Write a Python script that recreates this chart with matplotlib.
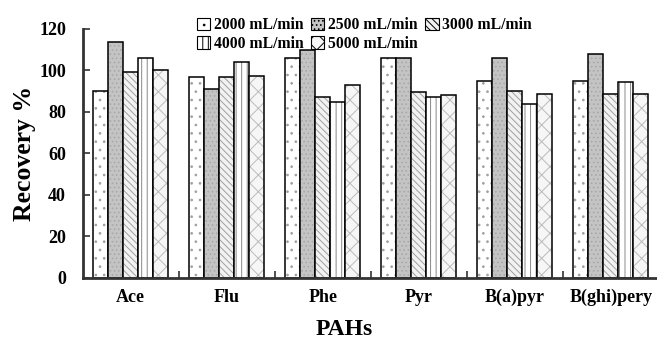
import matplotlib
matplotlib.use('Agg')
import matplotlib.pyplot as plt
import numpy as np

plt.rcParams['font.family'] = ['Liberation Serif', 'DejaVu Serif']
plt.rcParams['font.weight'] = 'bold'
plt.rcParams['hatch.linewidth'] = 0.7

# datos
compuestos = ['Ace', 'Flu', 'Phe', 'Pyr', 'B(a)pyr', 'B(ghi)pery']
flujos = ['2000 mL/min', '2500 mL/min', '3000 mL/min', '4000 mL/min', '5000 mL/min']
r2000 = [90, 97, 106, 106, 95, 95]
r2500 = [113.5, 91, 110, 106, 106, 108]
r3000 = [99.5, 97, 87, 89.5, 90, 88.5]
r4000 = [106, 104, 85, 87, 84, 94.5]
r5000 = [100, 97.5, 93, 88, 88.5, 88.5]
series = [r2000, r2500, r3000, r4000, r5000]

colores = ['white', '#c4c4c4', '#f2f2f2', 'white', '#f6f6f6']
tramas = ['..', '....', '\\\\\\\\\\', '|||', 'xx']
trama_col = ['#a0a0a0', '#a8a8a8', '#a0a0a0', '#888888', '#bbbbbb']

fig = plt.figure(figsize=(6.57, 3.41), dpi=100)
ax = fig.add_axes([0.126, 0.185, 0.877, 0.73])

x = np.arange(len(compuestos))
ancho = 0.157
barras = []
for i, vals in enumerate(series):
    pos = x - 2 * ancho + i * ancho - 0.005
    b = ax.bar(pos, vals, ancho, color=colores[i], edgecolor=trama_col[i],
               hatch=tramas[i], linewidth=0, label=flujos[i])
    barras.append(b)
    ax.bar(pos, vals, ancho, color='none', edgecolor='black', linewidth=1.1)

ax.set_xlim(-0.5, len(compuestos) - 0.5)
ax.set_ylim(0, 120)
ax.set_yticks([0, 20, 40, 60, 80, 100, 120])
ax.set_xticks(x)
ax.set_xticklabels(compuestos)
ax.set_xticks(np.arange(len(compuestos)) + 0.5, minor=True)
ax.tick_params(axis='x', which='major', length=0, pad=8, labelsize=13)
ax.tick_params(axis='x', which='minor', direction='in', length=5, width=1.2, color='#333333')
ax.tick_params(axis='y', direction='in', length=5, width=1.2, color='#333333', labelsize=13, pad=12)
for t in ax.get_xticklabels() + ax.get_yticklabels():
    t.set_fontweight('bold')

ax.spines['top'].set_visible(False)
ax.spines['right'].set_visible(False)
ax.spines['left'].set_linewidth(2)
ax.spines['bottom'].set_linewidth(2)
ax.spines['left'].set_color('#333333')
ax.spines['bottom'].set_color('#333333')

ax.set_xlabel('PAHs', fontsize=17, fontweight='bold')
ax.xaxis.set_label_coords(0.453, -0.165)
ax.set_ylabel('Recovery %', fontsize=18.5, fontweight='bold')
ax.yaxis.set_label_coords(-0.081, 0.5)

# orden por filas como en la figura
orden = [0, 3, 1, 4, 2]
leg = fig.legend([barras[k] for k in orden], [flujos[k] for k in orden], ncol=3,
                 loc='upper left', bbox_to_anchor=(0.288, 0.972), frameon=False,
                 prop={'weight': 'bold', 'size': 11.3}, handlelength=0.85, handleheight=0.85,
                 handletextpad=0.25, columnspacing=0.45, labelspacing=0.15, borderpad=0)
for h in leg.legend_handles:
    h.set_edgecolor('black')
    h.set_linewidth(0.8)

plt.savefig('out.png', dpi=100)
